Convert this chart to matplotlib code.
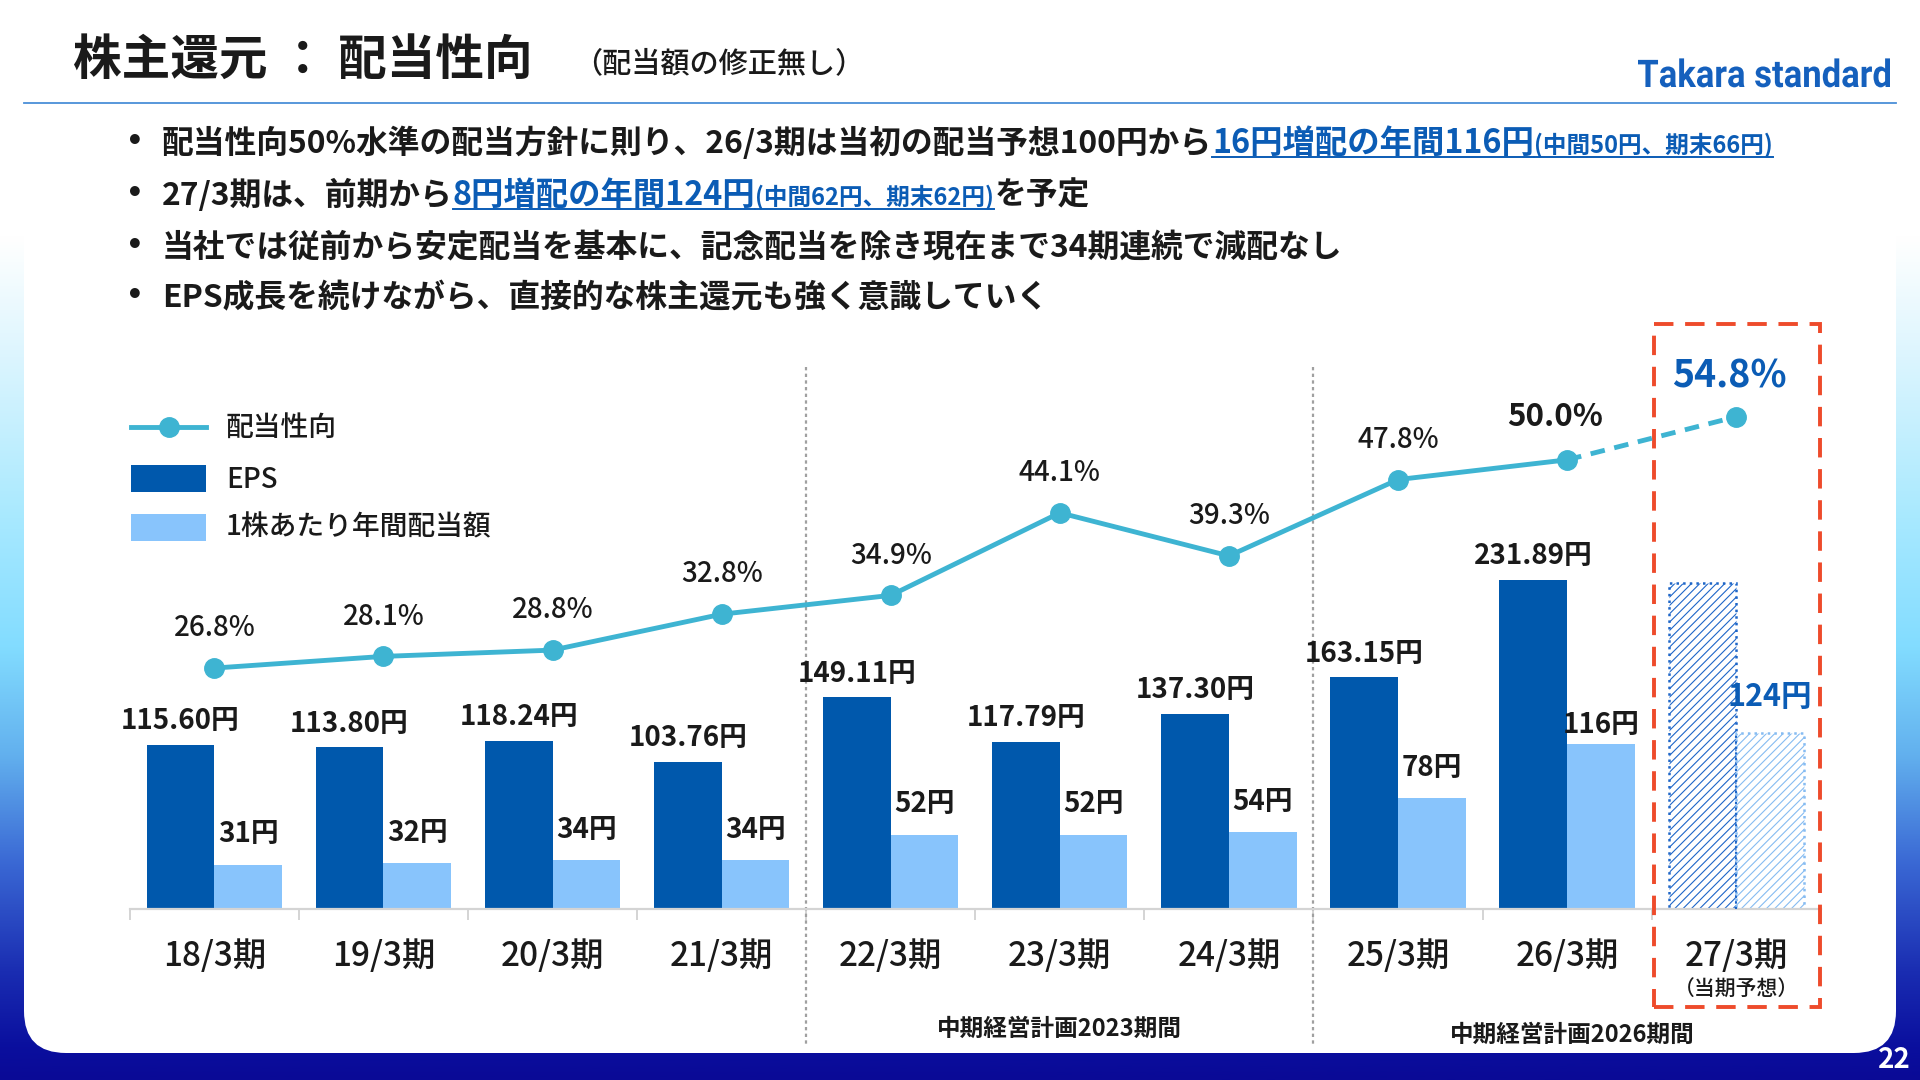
import numpy as np
import matplotlib
matplotlib.use('Agg')
import matplotlib.pyplot as plt
import matplotlib.transforms as mtransforms
from matplotlib.patches import Rectangle, FancyBboxPatch, PathPatch
from matplotlib.textpath import TextPath
from matplotlib.font_manager import FontProperties
from matplotlib.lines import Line2D

plt.rcParams['font.family'] = ['Noto Sans CJK JP', 'DejaVu Sans']
plt.rcParams['hatch.linewidth'] = 0.8

# data
periods = ['18/3期', '19/3期', '20/3期', '21/3期', '22/3期',
           '23/3期', '24/3期', '25/3期', '26/3期', '27/3期']
eps = [115.60, 113.80, 118.24, 103.76, 149.11, 117.79, 137.30, 163.15, 231.89, 230.0]
eps_labels = ['115.60円', '113.80円', '118.24円', '103.76円', '149.11円',
              '117.79円', '137.30円', '163.15円', '231.89円', '']
dps = [31, 32, 34, 34, 52, 52, 54, 78, 116, 124]
dps_labels = ['31円', '32円', '34円', '34円', '52円', '52円', '54円', '78円', '116円', '124円']
payout = [26.8, 28.1, 28.8, 32.8, 34.9, 44.1, 39.3, 47.8, 50.0, 54.8]
payout_labels = ['26.8%', '28.1%', '28.8%', '32.8%', '34.9%', '44.1%', '39.3%', '47.8%', '50.0%', '54.8%']

bullets = [
    [('配当性向50%水準の配当方針に則り、26/3期は当初の配当予想100円から', 22.9, '#1a1a1a', False),
     ('16円増配の年間116円', 23.3, '#0b5cb5', True),
     ('(中間50円、期末66円)', 17, '#0b5cb5', True)],
    [('27/3期は、前期から', 22.9, '#1a1a1a', False),
     ('8円増配の年間124円', 23.3, '#0b5cb5', True),
     ('(中間62円、期末62円)', 17, '#0b5cb5', True),
     ('を予定', 22.9, '#1a1a1a', False)],
    [('当社では従前から安定配当を基本に、記念配当を除き現在まで34期連続で減配なし', 22.9, '#1a1a1a', False)],
    [('EPS成長を続けながら、直接的な株主還元も強く意識していく', 22.9, '#1a1a1a', False)],
]

EPS_C = '#0058ac'
DPS_C = '#88c4fc'
LINE_C = '#3eb4d2'
TXT = '#1a1a1a'

fig = plt.figure(figsize=(19.2, 10.8), dpi=100)

# background axes in pixel units
bg = fig.add_axes([0, 0, 1, 1])
bg.set_xlim(0, 1920)
bg.set_ylim(1080, 0)
bg.axis('off')

stops = [0.0, 0.22, 0.33, 0.48, 0.60, 0.70, 0.80, 0.90, 0.97, 1.0]
cols = ['#ffffff', '#ffffff', '#dcf5fe', '#a8e9ff', '#82dcff', '#62b0ee',
        '#3a68d4', '#1a2db2', '#0a0f9e', '#0a0a96']
rgb = np.array([matplotlib.colors.to_rgb(c) for c in cols])
yy = np.linspace(0, 1, 400)
grad = np.stack([np.interp(yy, stops, rgb[:, k]) for k in range(3)], axis=1)
bg.imshow(grad[:, None, :], extent=[0, 1920, 1080, 0], aspect='auto', zorder=0)
bg.add_patch(FancyBboxPatch((24, -100), 1872, 1153,
                            boxstyle='round,pad=0,rounding_size=42',
                            fc='white', ec='none', zorder=1))

# header
bg.text(73, 60, '株主還元 ： 配当性向', fontsize=35, fontweight='bold',
        color=TXT, va='center', zorder=3)
bg.text(573, 64, '（配当額の修正無し）', fontsize=21, fontweight='medium',
        color=TXT, va='center', zorder=3)
bg.plot([24, 1896], [103, 103], color='#4a8fd8', lw=1.3, zorder=3)

tp = TextPath((0, 0), 'Takara standard', size=40,
              prop=FontProperties(family='Roboto', weight='bold'))
ext = tp.get_extents()
sx = 252 / ext.width
sy = 29 / ext.height
tr = mtransforms.Affine2D().translate(-ext.x0, 0).scale(sx, -sy).translate(1638, 87)
bg.add_patch(PathPatch(tp, transform=tr + bg.transData, fc='#1560bd', ec='none', zorder=3))

bg.text(1911, 1060, '22', fontsize=20, fontweight='bold', color='white',
        ha='right', va='center', zorder=3)

# bullets
fig.canvas.draw()
renderer = fig.canvas.get_renderer()
base_y = [153, 205, 257, 307]
for runs, by in zip(bullets, base_y):
    bg.text(135, by - 11, '•', fontsize=20, fontweight='bold', color=TXT,
            family=['DejaVu Sans'], ha='center', va='center', zorder=3)
    x = 162
    for text, size, color, underline in runs:
        t = bg.text(x, by, text, fontsize=size, fontweight='bold', color=color,
                    va='baseline', zorder=3)
        w = t.get_window_extent(renderer).width
        if underline:
            bg.plot([x, x + w], [by + 4, by + 4], color=color, lw=1.4, zorder=3)
        x += w

# legend (drawn in pixel space)
bg.add_line(Line2D([131, 206], [427, 427], color=LINE_C, lw=3.5, zorder=3))
bg.add_line(Line2D([169], [427], marker='o', markersize=14, color=LINE_C, zorder=3))
bg.add_patch(Rectangle((131, 465), 75, 27, fc=EPS_C, ec='none', zorder=3))
bg.add_patch(Rectangle((131, 514), 75, 27, fc=DPS_C, ec='none', zorder=3))
for ty, lab in zip([427, 479, 527], ['配当性向', 'EPS', '1株あたり年間配当額']):
    bg.text(226, ty, lab, fontsize=20, fontweight='medium', color=TXT, va='center', zorder=3)

# chart
ax = fig.add_axes([0.0676, 0.1587, 0.8807, 0.5465])
ax.patch.set_alpha(0)
x = np.arange(len(periods))
w = 0.4
hist = slice(0, 9)
ax.bar(x[hist] - w / 2, eps[hist], w, color=EPS_C, zorder=2)
ax.bar(x[hist] + w / 2, dps[hist], w, color=DPS_C, zorder=2)
ax.bar(x[9] - w / 2, eps[9], w, facecolor='white', edgecolor='#1e66c8',
       hatch='////', linestyle=':', linewidth=1.8, zorder=2)
ax.bar(x[9] + w / 2, dps[9], w, facecolor='white', edgecolor='#86bcf2',
       hatch='////', linestyle=':', linewidth=1.8, zorder=2)
ax.plot([x[9]] * 2, [0, dps[9]], color='#1e66c8', lw=1.5, ls=':', zorder=3)

ax.set_xlim(-0.5, 9.5)
ax.set_ylim(0, 416.6)
for s in ['top', 'left', 'right']:
    ax.spines[s].set_visible(False)
ax.spines['bottom'].set_color('#d4d4d4')
ax.spines['bottom'].set_linewidth(1.6)
ax.set_yticks([])
ax.set_xticks(x)
ax.set_xticklabels(periods, fontsize=24, fontweight='medium', color=TXT)
ax.tick_params(axis='x', which='major', length=0, pad=22)
ax.set_xticks(np.arange(-0.5, 10, 1), minor=True)
ax.tick_params(axis='x', which='minor', length=8, width=1.4, color='#d4d4d4')

for i in range(9):
    ax.annotate(eps_labels[i], (x[i] - w / 2, eps[i]), xytext=(0, 17),
                textcoords='offset points', ha='center', va='center',
                fontsize=20, fontweight='bold', color=TXT)
for i in range(9):
    off = 14 if i == 8 else 22
    ax.annotate(dps_labels[i], (x[i] + w / 2, dps[i]), xytext=(0, off),
                textcoords='offset points', ha='center', va='center',
                fontsize=20, fontweight='bold', color=TXT)
ax.annotate(dps_labels[9], (x[9] + w / 2, dps[9]), xytext=(0, 26),
            textcoords='offset points', ha='center', va='center',
            fontsize=22, fontweight='bold', color='#0b5cb5')

# payout ratio line
ax2 = ax.twinx()
ax2.set_ylim(0, 65.76)
ax2.axis('off')
ax2.plot(x[:9], payout[:9], color=LINE_C, lw=3.5, marker='o', markersize=14, zorder=4)
ax2.plot(x[8:], payout[8:], color=LINE_C, lw=3.5, ls=(0, (3, 2)), zorder=4)
ax2.plot(x[9], payout[9], color=LINE_C, marker='o', markersize=14, zorder=4)
for i in range(10):
    if i == 9:
        kw = dict(fontsize=27, fontweight='bold', color='#0b5cb5')
        off = (-5, 29)
    elif i == 8:
        kw = dict(fontsize=22.5, fontweight='bold', color=TXT)
        off = (-9, 31)
    else:
        kw = dict(fontsize=20, fontweight='medium', color=TXT)
        off = (0, 29)
    ax2.annotate(payout_labels[i], (x[i], payout[i]), xytext=off,
                 textcoords='offset points', ha='center', va='center', **kw)

# period separators and labels
blend = mtransforms.blended_transform_factory(ax.transData, ax.transAxes)
for xs in [3.5, 6.5]:
    ax.plot([xs, xs], [0.917, -0.234], transform=blend, clip_on=False,
            color='#a0a0a0', lw=1.6, ls=(0, (1.5, 1.5)))
ax.text(5.0, -0.204, '中期経営計画2023期間', transform=blend, ha='center', va='center',
        fontsize=17, fontweight='bold', color=TXT)
ax.text(8.03, -0.214, '中期経営計画2026期間', transform=blend, ha='center', va='center',
        fontsize=17, fontweight='bold', color=TXT)
ax.text(9.0, -0.138, '（当期予想）', transform=blend, ha='center', va='center',
        fontsize=15, fontweight='medium', color=TXT)

# forecast highlight box
ax.add_patch(Rectangle((8.514, -0.167), 0.979, 1.157, transform=blend, fill=False,
                       ec='#ee4b2b', lw=2.8, ls=(0, (5, 3)), clip_on=False, zorder=5))

fig.savefig('out.png', dpi=100)
